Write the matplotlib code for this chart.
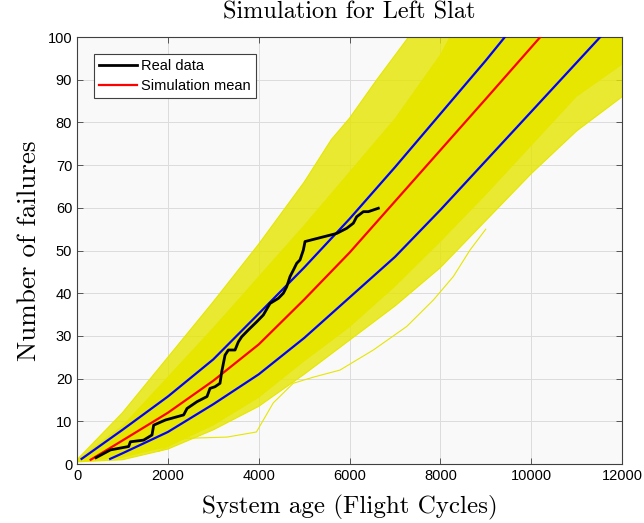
import matplotlib
matplotlib.use("Agg")
import matplotlib.pyplot as plt

# Simulation band (outer sparse envelope of the simulated paths)
fringe_up_x = [0, 500, 1000, 2000, 3000, 4000, 5000, 5600, 6000, 6600, 7300, 12000]
fringe_up_y = [1, 6.5, 12, 25, 38, 51.5, 66, 76, 81, 90, 100, 100]
fringe_lo_x = [0, 1000, 2000, 3000, 4000, 5000, 6000, 7000, 8000, 9000, 10000, 11000, 12000]
fringe_lo_y = [0.5, 1, 3.5, 8, 13.5, 21, 29, 37, 46, 57, 68, 78, 86]

# Simulation band (dense core)
dense_up_x = [0, 1000, 2000, 3000, 4000, 5000, 6000, 7000, 8000, 8200, 12000]
dense_up_y = [1, 9, 20.5, 32, 44, 56, 68.5, 81, 96, 100, 100]
dense_lo_x = [0, 1000, 2000, 3000, 4000, 5000, 6000, 7000, 8000, 9000, 10000, 11000, 12000]
dense_lo_y = [0.5, 1.5, 4, 9, 15.5, 24, 32, 41.5, 52, 63, 74.5, 86, 93.5]

# One straggling simulated path below the band
stray_x = [1800, 2340, 3300, 3950, 4320, 4760, 5190, 5790, 6524, 7258, 7845, 8285, 8652, 9000]
stray_y = [3, 6, 6.3, 7.5, 14.3, 18.9, 20.3, 22, 26.7, 32.2, 38.4, 43.9, 50.1, 55]

# Confidence bounds and mean
upper_x = [100, 1000, 2000, 3000, 4000, 5000, 6000, 7000, 8000, 9000, 9420]
upper_y = [1.2, 8, 15.8, 24.5, 35.2, 46, 57.4, 69.5, 82, 94.5, 100]
mean_x = [300, 1000, 2000, 3000, 4000, 5000, 6000, 7000, 8000, 9000, 10200]
mean_y = [1, 5.5, 12, 19.5, 28, 38.5, 49.5, 61.5, 73.5, 85.5, 100]
lower_x = [730, 1000, 2000, 3000, 4000, 5000, 6000, 7000, 8000, 9000, 10000, 11520]
lower_y = [1.2, 2.5, 7.5, 14, 21, 29.5, 39, 48.5, 59.5, 71, 82.5, 100]

# Real failure data
real_x = [420, 735, 1137, 1175, 1467, 1651, 1688, 1945, 2348, 2422, 2642, 2862,
          2928, 3038, 3148, 3186, 3259, 3332, 3479, 3552, 3626, 3772, 3956, 4102,
          4249, 4433, 4543, 4616, 4690, 4763, 4837, 4910, 4983, 5020, 5423, 5717,
          5937, 6084, 6157, 6304, 6414, 6634]
real_y = [1.5, 3.3, 4.1, 5.2, 5.6, 6.8, 9.1, 10.3, 11.5, 13, 14.6, 15.8,
          17.7, 18.1, 18.9, 21.6, 25.5, 26.7, 26.7, 28.6, 29.8, 31.4, 33.3, 34.9,
          37.6, 38.8, 40, 41.5, 43.9, 45.4, 47, 47.8, 50.1, 52.1, 53.2, 54,
          55.2, 56.4, 57.9, 59.1, 59.1, 59.9]

x_ticks = [0, 2000, 4000, 6000, 8000, 10000, 12000]
y_ticks = [0, 10, 20, 30, 40, 50, 60, 70, 80, 90, 100]

YELLOW = '#e6e600'

fig = plt.figure(figsize=(6.44, 5.23), dpi=100)
ax = fig.add_axes([0.1196, 0.1128, 0.8463, 0.8164])
ax.set_facecolor('#f9f9f9')

# yellow simulated paths, drawn as envelopes
ax.fill(fringe_up_x + fringe_lo_x[::-1], fringe_up_y + fringe_lo_y[::-1],
        color=YELLOW, alpha=0.8, lw=0, zorder=1)
ax.plot(fringe_up_x, fringe_up_y, color=YELLOW, lw=0.8, zorder=1)
ax.plot(fringe_lo_x, fringe_lo_y, color=YELLOW, lw=0.8, zorder=1)
ax.fill(dense_up_x + dense_lo_x[::-1], dense_up_y + dense_lo_y[::-1],
        color=YELLOW, lw=0, zorder=2)
ax.plot(stray_x, stray_y, color=YELLOW, lw=0.8, zorder=2)

ax.plot(upper_x, upper_y, color='#0000ff', lw=1.6, zorder=3)
ax.plot(lower_x, lower_y, color='#0000ff', lw=1.6, zorder=3)
ax.plot(mean_x, mean_y, color='#ff0000', lw=1.6, zorder=3, label='Simulation mean')
ax.plot(real_x, real_y, color='black', lw=2, zorder=4, label='Real data')

ax.set_xlim(0, 12000)
ax.set_ylim(0, 100)
ax.set_xticks(x_ticks)
ax.set_yticks(y_ticks)
ax.grid(True, color='#dcdcdc', lw=0.7)
ax.set_axisbelow(True)
ax.tick_params(direction='in', top=True, right=True, length=4, width=0.6,
               colors='#404040', labelcolor='black', labelsize=10.5)
for lab in ax.get_xticklabels() + ax.get_yticklabels():
    lab.set_family('Liberation Sans')
for sp in ax.spines.values():
    sp.set_color('#404040')
    sp.set_linewidth(0.8)

ax.set_title('Simulation for Left Slat', family='cmr10', fontsize=17.5, pad=13)
ax.set_xlabel('System age (Flight Cycles)', family='cmr10', fontsize=18, labelpad=9)
ax.set_ylabel('Number of failures', family='cmr10', fontsize=19.5, labelpad=5)

handles, labels = ax.get_legend_handles_labels()
leg = ax.legend(handles[::-1], labels[::-1], loc='upper left', bbox_to_anchor=(0.031, 0.96),
                borderaxespad=0,
                prop={'family': 'Liberation Sans', 'size': 10.5}, fancybox=False,
                framealpha=1, edgecolor='#404040', handlelength=2.6,
                borderpad=0.35, labelspacing=0.4, handletextpad=0.3)
leg.get_frame().set_linewidth(0.8)

fig.savefig('out.png', dpi=100)
